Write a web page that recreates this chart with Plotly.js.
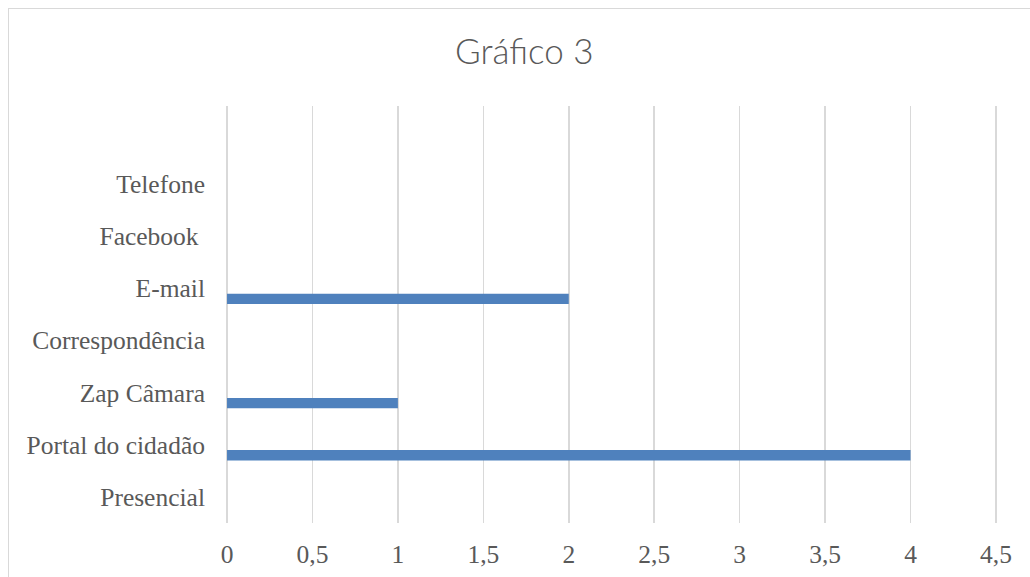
<!DOCTYPE html>
<html>
<head>
<meta charset="utf-8">
<script src="https://cdn.plot.ly/plotly-3.0.1.min.js"></script>
<style>
html,body{margin:0;padding:0;overflow:hidden;background:#fff;}
#wrap{position:relative;width:1030px;height:577px;}
#chart{position:absolute;left:0;top:0;width:1030px;height:577px;}
#frame{position:absolute;left:8px;top:8px;width:1100px;height:700px;border:1.5px solid #d9d9d9;pointer-events:none;}
</style>
</head>
<body>
<div id="wrap"><div id="chart"></div><div id="frame"></div></div>
<script>
const categories = ["Presencial", "Portal do cidadão", "Zap Câmara", "Correspondência", "E-mail", "Facebook ", "Telefone"];
const values = [0, 4, 1, 0, 2, 0, 0];
const xTicks = [0, 0.5, 1, 1.5, 2, 2.5, 3, 3.5, 4, 4.5];
const titleText = "Gráfico 3";

const serif = "Liberation Serif, Times New Roman, serif";
const grey = "#595959";

Plotly.newPlot("chart", [{
  type: "bar",
  orientation: "h",
  x: values,
  y: categories,
  marker: {color: "#4f81bd"},
  width: 0.2,
  offset: -0.3,
  hoverinfo: "x+y"
}], {
  width: 1030,
  height: 577,
  margin: {l: 226, r: 33, t: 106, b: 54, pad: 0},
  paper_bgcolor: "#ffffff",
  plot_bgcolor: "#ffffff",
  separators: ",.",
  showlegend: false,
  title: {
    text: titleText,
    font: {family: "Lato, Open Sans, sans-serif", size: 35, color: grey, weight: 300},
    x: 0.509, xref: "container", xanchor: "center",
    y: 0.91, yref: "container", yanchor: "middle"
  },
  xaxis: {
    range: [-0.006, 4.506],
    tickvals: xTicks,
    showgrid: true,
    gridcolor: "#d9d9d9",
    gridwidth: 1.5,
    zeroline: false,
    showline: false,
    ticks: "",
    ticklabelstandoff: 13,
    tickfont: {family: serif, size: 25.5, color: grey}
  },
  yaxis: {
    type: "category",
    categoryorder: "array",
    categoryarray: categories,
    range: [-0.5, 7.5],
    showgrid: false,
    zeroline: false,
    showline: false,
    ticks: "",
    ticklabelstandoff: 20,
    tickfont: {family: serif, size: 25.5, color: grey}
  }
}, {staticPlot: true});
</script>
</body>
</html>
